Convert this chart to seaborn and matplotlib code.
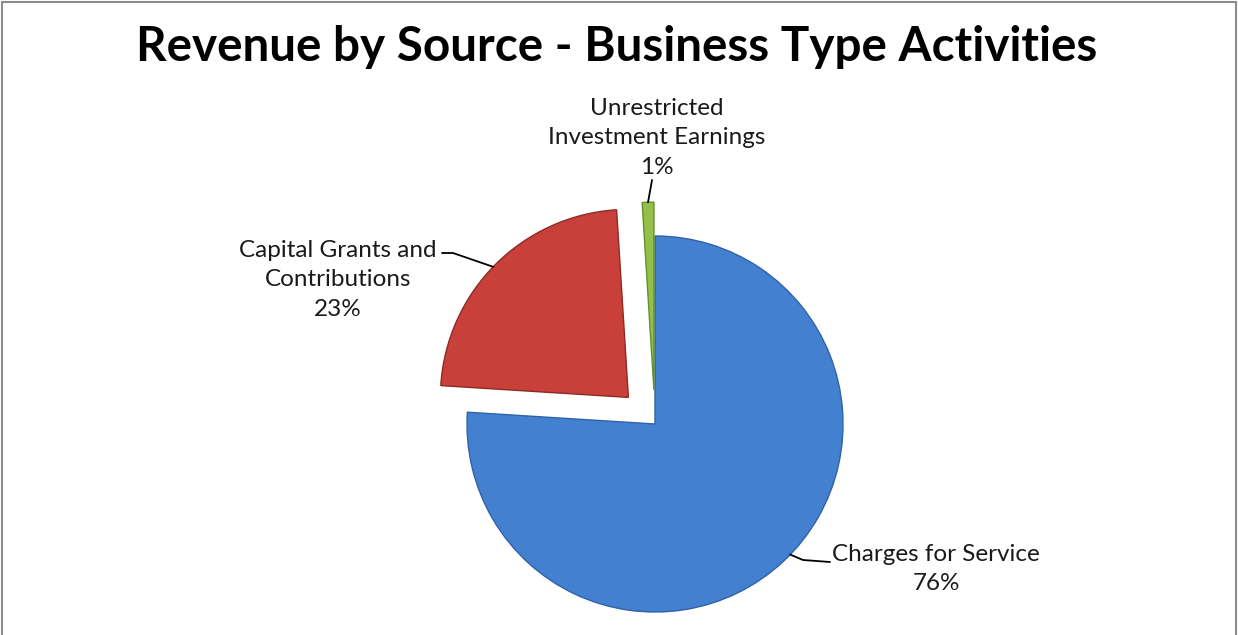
import numpy as np
import matplotlib
matplotlib.use("Agg")
import matplotlib.pyplot as plt
import seaborn as sns
from matplotlib.patches import Rectangle

# ---- data ----
categories = ["Charges for Service", "Capital Grants and\nContributions", "Unrestricted\nInvestment Earnings"]
shares = [76, 23, 1]
pct_labels = ["76%", "23%", "1%"]
title = "Revenue by Source - Business Type Activities"

sns.set_theme(style="white")
plt.rcParams["font.family"] = ["Lato", "DejaVu Sans"]

colors = ["#4480d0", "#c9403a", "#94c04a"]
edges = ["#2f62a8", "#8e2a26", "#64902e"]

W, H = 1238, 635
fig = plt.figure(figsize=(W / 100, H / 100), dpi=100)
ax = fig.add_axes([0, 0, 1, 1])
ax.set_aspect("equal")
ax.axis("off")

cx, cy, R = 655, H - 424, 188
explode_frac = [0, 0.2, 0.18]
wedges, _ = ax.pie(shares, colors=colors, startangle=90, counterclock=False,
                   explode=[e * R for e in explode_frac], center=(cx, cy), radius=R,
                   wedgeprops=dict(linewidth=1.0))
for w, ec in zip(wedges, edges):
    w.set_edgecolor(ec)

ax.set_xlim(0, W)
ax.set_ylim(0, H)

# title
ax.text(617, H - 47, title, ha="center", va="center", fontsize=34.3, fontweight="bold", color="black")

# labels
label_pos = [(936, H - 569), (338, H - 280), (657, H - 138)]
label_txt = [f"{c}\n{p}" for c, p in zip(categories, pct_labels)]
for t, (x, y) in zip(label_txt, label_pos):
    ax.text(x, y, t, ha="center", va="center", fontsize=17.5, color="#1a1a1a", linespacing=1.52)

# leader lines (from wedge edge to label)
def edge_point(w, ang_deg):
    ang = np.deg2rad(ang_deg)
    c = w.center
    return c[0] + w.r * np.cos(ang), c[1] + w.r * np.sin(ang)

p = edge_point(wedges[0], -44)
ax.plot([p[0], 803, 830], [p[1], H - 560, H - 562], color="black", lw=1.3)
p = edge_point(wedges[1], 136)
ax.plot([p[0], 453, 442], [p[1], H - 253, H - 253], color="black", lw=1.3)
w = wedges[2]
p = edge_point(w, 0.5 * (w.theta1 + w.theta2))
ax.plot([p[0], p[0] + 4], [p[1], H - 180], color="black", lw=1.3)

# outer frame
fig.patches.append(Rectangle((2 / W, -0.01), 1 - 4 / W, 1 - 2 / H + 0.01, transform=fig.transFigure,
                             fill=False, edgecolor="#8c8c8c", lw=1.5))

fig.savefig("out.png", dpi=100, facecolor="white")
